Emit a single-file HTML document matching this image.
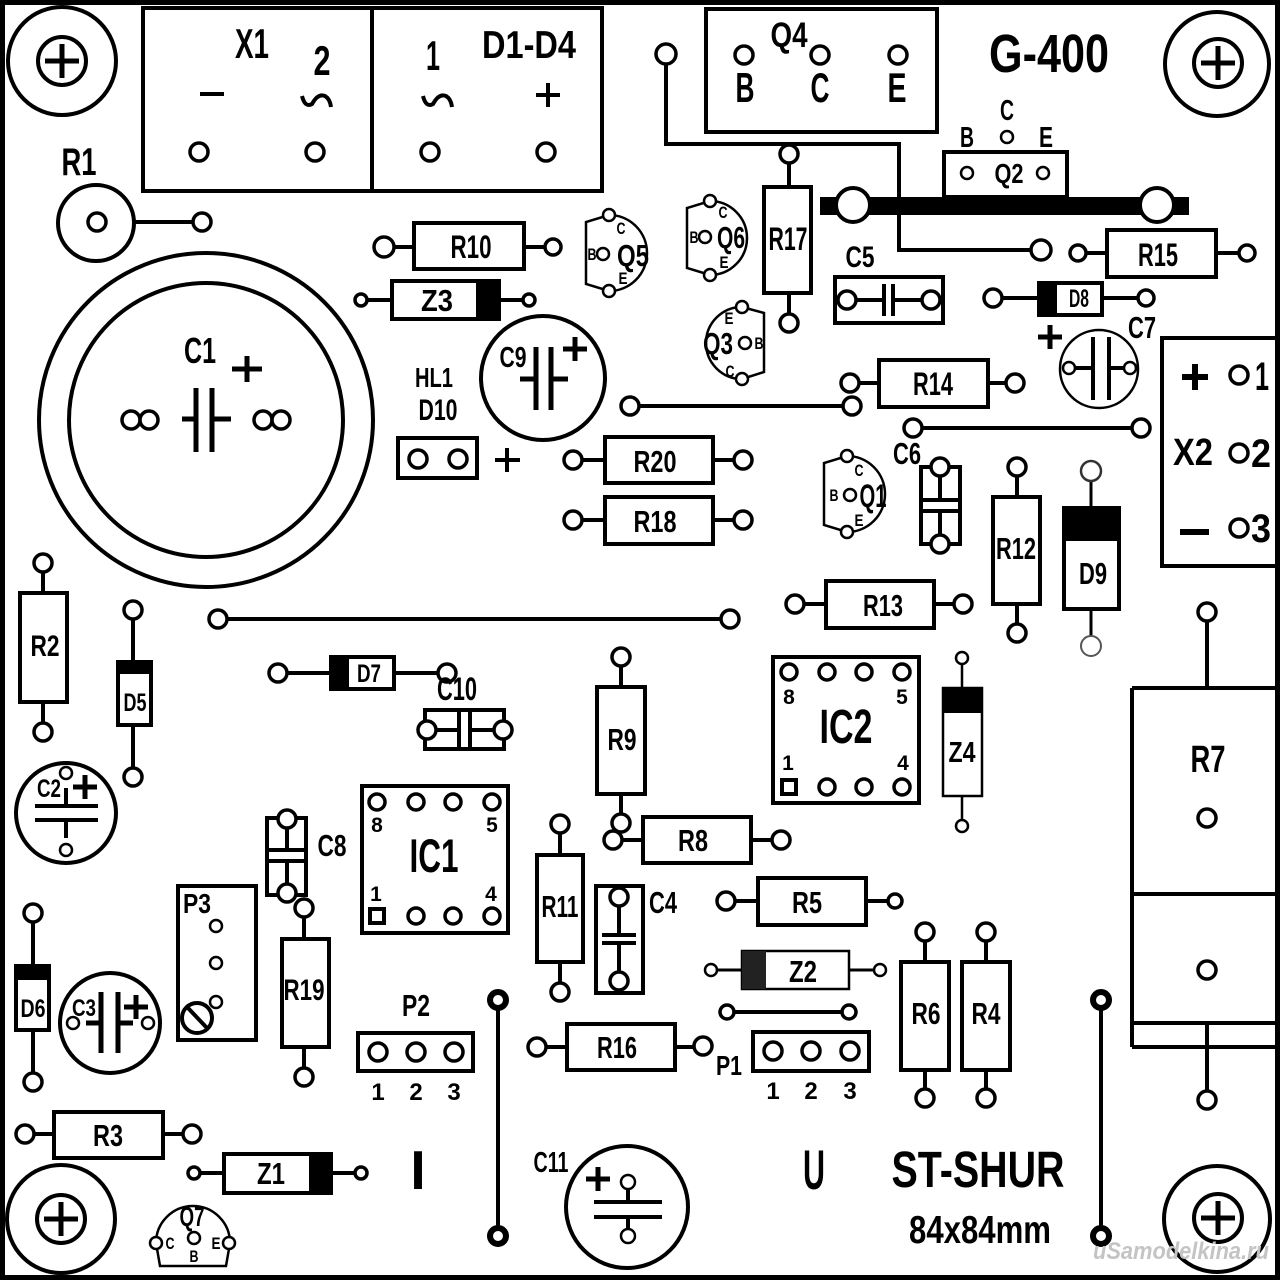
<!DOCTYPE html>
<html><head><meta charset="utf-8"><style>
html,body{margin:0;padding:0;background:#fff}
svg{display:block}
text{font-family:"Liberation Sans",sans-serif;font-weight:bold;text-anchor:middle;fill:#000}
.o{fill:none;stroke:#000;stroke-width:4}
.w{fill:#fff;stroke:#000;stroke-width:4}
.p{fill:#fff;stroke:#000;stroke-width:3.5}
.q{fill:#fff;stroke:#000;stroke-width:2.5}
.l{fill:none;stroke:#000;stroke-width:4}
.bk{fill:#fff;stroke:#000;stroke-width:6}
</style></head><body>
<svg width="1280" height="1280" viewBox="0 0 1280 1280" xmlns="http://www.w3.org/2000/svg">
<rect x="0" y="0" width="1280" height="1280" fill="#fff"/>
<rect x="2.5" y="2.5" width="1275" height="1275" fill="none" stroke="#000" stroke-width="5"/>

<!-- mounting holes -->
<g class="o">
<circle cx="62" cy="61" r="54"/><circle cx="62" cy="61" r="24"/>
<circle cx="1217" cy="64" r="52"/><circle cx="1218" cy="63" r="24"/>
<circle cx="61" cy="1219" r="54"/><circle cx="61" cy="1219" r="24"/>
<circle cx="1217" cy="1219" r="53"/><circle cx="1218" cy="1218" r="24"/>
</g>
<path d="M45,61H79M62,44V78M1201,63H1235M1218,46V80M44,1219H78M61,1202V1236M1201,1218H1235M1218,1201V1235" stroke="#000" stroke-width="5"/>

<!-- X1 / D1-D4 block -->
<rect x="143" y="8" width="459" height="183" class="o"/>
<line x1="372" y1="8" x2="372" y2="191" stroke="#000" stroke-width="4"/>
<circle class="p" cx="199" cy="152" r="9"/><circle class="p" cx="315" cy="152" r="9"/>
<circle class="p" cx="430" cy="152" r="9"/><circle class="p" cx="546" cy="152" r="9"/>
<path d="M200,94H224M536,95H560M548,83V107" stroke="#000" stroke-width="4"/>
<path class="l" d="M302,96Q305,108 312,104Q318,93 325,96Q330,99 331,107"/>
<path class="l" d="M423,96Q426,108 433,104Q439,93 446,96Q451,99 452,107"/>

<!-- R1 -->
<circle class="o" cx="96" cy="223" r="38"/>
<line x1="134" y1="222" x2="193" y2="222" stroke="#000" stroke-width="4"/>
<circle class="p" cx="97" cy="222" r="9"/><circle class="p" cx="202" cy="222" r="9"/>

<!-- C1 -->
<circle class="o" cx="206" cy="420" r="167"/>
<circle class="o" cx="206" cy="420" r="137"/>
<path d="M182,419H196M196,388V452M212,388V452M212,419H231" stroke="#000" stroke-width="5" fill="none"/>
<path d="M232,369H262M247,356V382" stroke="#000" stroke-width="5"/>
<circle class="p" cx="131" cy="420" r="9"/><circle class="p" cx="149" cy="420" r="9"/>
<circle class="p" cx="263" cy="420" r="9"/><circle class="p" cx="281" cy="420" r="9"/>

<!-- R10 -->
<path class="l" d="M384,247H414M524,247H553"/>
<rect class="w" x="414" y="223" width="110" height="46"/>
<circle class="p" cx="384" cy="247" r="10"/><circle class="p" cx="553" cy="247" r="8"/>
<!-- Z3 -->
<path class="l" d="M361,300H392M499,300H529"/>
<rect class="w" x="392" y="281" width="107" height="38"/>
<rect x="476" y="281" width="23" height="38" fill="#000"/>
<circle class="p" cx="361" cy="300" r="6"/><circle class="p" cx="529" cy="300" r="6"/>

<!-- Q5 Q6 Q3 Q1 -->
<path class="q" d="M609,215A38,38 0 1,1 609,291L586,284L586,222Z"/>
<circle class="q" cx="609" cy="215" r="6"/><circle class="q" cx="609" cy="291" r="6"/><circle class="q" cx="603" cy="254" r="6"/>
<path class="q" d="M710,201A37,37 0 1,1 710,275L687,268L687,208Z"/>
<circle class="q" cx="710" cy="201" r="6"/><circle class="q" cx="710" cy="275" r="6"/><circle class="q" cx="705" cy="237" r="6"/>
<path class="q" d="M742,307A36,36 0 1,0 742,379L764,372L764,313Z"/>
<circle class="q" cx="742" cy="307" r="6"/><circle class="q" cx="742" cy="379" r="6"/><circle class="q" cx="745" cy="343" r="6"/>
<path class="q" d="M847,456A38,38 0 1,1 847,532L824,525L824,463Z"/>
<circle class="q" cx="847" cy="456" r="6"/><circle class="q" cx="847" cy="532" r="6"/><circle class="q" cx="850" cy="495" r="6"/>

<!-- Q4 -->
<rect class="o" x="706" y="9" width="231" height="123"/>
<circle class="p" cx="744" cy="55" r="9"/><circle class="p" cx="820" cy="55" r="9"/><circle class="p" cx="898" cy="55" r="9"/>

<!-- trace from Q4 area -->
<path class="l" d="M666,62V144H899V250H1032M789,144V146"/>
<circle class="p" cx="666" cy="54" r="10"/><circle class="p" cx="1041" cy="250" r="10"/>

<!-- Q2 and bar -->
<rect class="w" x="944" y="152" width="123" height="45"/>
<rect x="820" y="197" width="369" height="18" fill="#000"/>
<circle class="w" cx="853" cy="205" r="17"/><circle class="w" cx="1157" cy="205" r="17"/>
<circle class="q" cx="967" cy="173" r="6"/><circle class="q" cx="1043" cy="173" r="6"/><circle class="q" cx="1007" cy="137" r="6"/>

<!-- R17 -->
<path class="l" d="M789,154V187M789,293V323"/>
<rect class="w" x="764" y="187" width="47" height="106"/>
<circle class="p" cx="789" cy="154" r="9"/><circle class="p" cx="789" cy="323" r="9"/>

<!-- C5 -->
<rect class="w" x="835" y="277" width="108" height="46"/>
<path class="l" d="M847,300H884M893,300H931M884,284V316M893,284V316"/>
<circle class="p" cx="847" cy="300" r="9"/><circle class="p" cx="931" cy="300" r="9"/>

<!-- R15 -->
<path class="l" d="M1078,253H1107M1216,253H1247"/>
<rect class="w" x="1107" y="230" width="109" height="47"/>
<circle class="p" cx="1078" cy="253" r="8"/><circle class="p" cx="1247" cy="253" r="8"/>
<!-- D8 -->
<path class="l" d="M993,298H1039M1102,298H1146"/>
<rect class="w" x="1039" y="283" width="63" height="32"/>
<rect x="1039" y="283" width="18" height="32" fill="#000"/>
<circle class="p" cx="993" cy="298" r="9"/><circle class="p" cx="1146" cy="298" r="8"/>
<!-- C7 -->
<circle class="q" cx="1099" cy="369" r="39"/>
<path class="l" d="M1069,368H1093M1109,368H1130M1093,337V400M1109,337V400"/>
<circle class="q" cx="1069" cy="368" r="6"/><circle class="q" cx="1130" cy="368" r="6"/>
<path d="M1038,337H1062M1050,325V349" stroke="#000" stroke-width="5"/>
<!-- R14 -->
<path class="l" d="M850,383H879M988,383H1015"/>
<rect class="w" x="879" y="360" width="109" height="47"/>
<circle class="p" cx="850" cy="383" r="9"/><circle class="p" cx="1015" cy="383" r="9"/>

<!-- traces -->
<line x1="630" y1="406" x2="852" y2="406" stroke="#000" stroke-width="4"/>
<circle class="p" cx="630" cy="406" r="9"/><circle class="p" cx="852" cy="406" r="9"/>
<line x1="913" y1="428" x2="1141" y2="428" stroke="#000" stroke-width="4"/>
<circle class="p" cx="913" cy="428" r="9"/><circle class="p" cx="1141" cy="428" r="9"/>
<line x1="218" y1="619" x2="730" y2="619" stroke="#000" stroke-width="4"/>
<circle class="p" cx="218" cy="619" r="9"/><circle class="p" cx="730" cy="619" r="9"/>

<!-- X2 -->
<path class="o" d="M1282,338H1162V566H1282"/>
<circle class="p" cx="1239" cy="375" r="9"/><circle class="p" cx="1239" cy="453" r="9"/><circle class="p" cx="1239" cy="528" r="9"/>
<path d="M1182,377H1208M1195,364V390M1180,532H1209" stroke="#000" stroke-width="6"/>

<!-- C9 -->
<circle class="o" cx="543" cy="378" r="62"/>
<path d="M520,379H536M536,347V410M551,347V410M551,379H568" stroke="#000" stroke-width="5" fill="none"/>
<path d="M563,349H587M575,337V361" stroke="#000" stroke-width="5"/>
<!-- HL1 -->
<rect class="o" x="398" y="438" width="79" height="40"/>
<circle class="p" cx="418" cy="459" r="9"/><circle class="p" cx="458" cy="459" r="9"/>
<path d="M495,460H520M507,448V472" stroke="#000" stroke-width="4"/>

<!-- R20 R18 -->
<path class="l" d="M573,460H605M713,460H743M573,520H605M713,520H743"/>
<rect class="w" x="605" y="437" width="108" height="46"/>
<rect class="w" x="605" y="497" width="108" height="47"/>
<circle class="p" cx="573" cy="460" r="9"/><circle class="p" cx="743" cy="460" r="9"/>
<circle class="p" cx="573" cy="520" r="9"/><circle class="p" cx="743" cy="520" r="9"/>

<!-- C6 -->
<rect class="w" x="921" y="467" width="39" height="77"/>
<path class="l" d="M940,476V500M921,500H960M921,511H960M940,511V535"/>
<circle class="p" cx="940" cy="467" r="9"/><circle class="p" cx="940" cy="544" r="9"/>
<!-- R12 -->
<path class="l" d="M1017,467V497M1017,604V633"/>
<rect class="w" x="993" y="497" width="47" height="107"/>
<circle class="p" cx="1017" cy="467" r="9"/><circle class="p" cx="1017" cy="633" r="9"/>
<!-- D9 -->
<path d="M1091,471V508M1091,609V646" stroke="#000" stroke-width="3"/>
<rect class="w" x="1064" y="508" width="55" height="101"/>
<rect x="1064" y="508" width="55" height="33" fill="#000"/>
<circle cx="1091" cy="471" r="10" fill="#fff" stroke="#333" stroke-width="2.5"/>
<circle cx="1091" cy="646" r="10" fill="#fff" stroke="#555" stroke-width="2"/>
<!-- R13 -->
<path class="l" d="M795,604H826M934,604H963"/>
<rect class="w" x="826" y="581" width="108" height="47"/>
<circle class="p" cx="795" cy="604" r="9"/><circle class="p" cx="963" cy="604" r="9"/>

<!-- IC2 -->
<rect class="o" x="773" y="657" width="146" height="146"/>
<circle class="p" cx="789" cy="672" r="8"/><circle class="p" cx="827" cy="672" r="8"/><circle class="p" cx="864" cy="672" r="8"/><circle class="p" cx="902" cy="672" r="8"/>
<rect class="w" x="782" y="780" width="14" height="14"/><circle class="p" cx="827" cy="787" r="8"/><circle class="p" cx="864" cy="787" r="8"/><circle class="p" cx="902" cy="787" r="8"/>
<!-- Z4 -->
<path d="M962,658V688M962,796V826" stroke="#000" stroke-width="2.5"/>
<rect class="q" x="943" y="688" width="39" height="108"/>
<rect x="943" y="688" width="39" height="25" fill="#000"/>
<circle class="q" cx="962" cy="658" r="6"/><circle class="q" cx="962" cy="826" r="6"/>

<!-- R7 -->
<path class="l" d="M1207,621V688M1132,688H1278M1132,688V1047M1132,894H1278M1132,1023H1278M1132,1047H1278M1207,1023V1091"/>
<circle class="p" cx="1207" cy="612" r="9"/><circle class="p" cx="1207" cy="818" r="9"/><circle class="p" cx="1207" cy="970" r="9"/><circle class="p" cx="1207" cy="1100" r="9"/>

<!-- vertical traces -->
<line x1="498" y1="1000" x2="498" y2="1236" stroke="#000" stroke-width="4"/>
<circle class="bk" cx="498" cy="1000" r="8"/><circle class="bk" cx="498" cy="1236" r="8"/>
<line x1="1101" y1="1000" x2="1101" y2="1236" stroke="#000" stroke-width="4"/>
<circle class="bk" cx="1101" cy="1000" r="8"/><circle class="bk" cx="1101" cy="1236" r="8"/>

<!-- R2 -->
<path class="l" d="M43,563V593M43,702V732"/>
<rect class="w" x="20" y="593" width="47" height="109"/>
<circle class="p" cx="43" cy="563" r="9"/><circle class="p" cx="43" cy="732" r="9"/>
<!-- D5 -->
<path class="l" d="M133,610V662M133,725V777"/>
<rect class="w" x="118" y="662" width="33" height="63"/>
<rect x="118" y="662" width="33" height="12" fill="#000"/>
<circle class="p" cx="133" cy="610" r="9"/><circle class="p" cx="133" cy="777" r="9"/>
<!-- D7 -->
<path class="l" d="M278,673H331M394,673H447"/>
<rect class="w" x="331" y="657" width="63" height="32"/>
<rect x="331" y="657" width="18" height="32" fill="#000"/>
<circle class="p" cx="278" cy="673" r="9"/><circle class="p" cx="447" cy="673" r="9"/>
<!-- C10 -->
<rect class="w" x="425" y="710" width="79" height="39"/>
<path class="l" d="M427,730H459M470,730H503M459,710V749M470,710V749"/>
<circle class="p" cx="427" cy="730" r="9"/><circle class="p" cx="503" cy="730" r="9"/>

<!-- C2 -->
<circle class="o" cx="66" cy="813" r="50"/>
<path class="l" d="M35,806H98M35,820H98M66,788V806M66,820V838"/>
<circle class="q" cx="66" cy="773" r="6"/><circle class="q" cx="66" cy="850" r="6"/>
<path d="M73,787H97M85,775V799" stroke="#000" stroke-width="5"/>

<!-- IC1 -->
<rect class="o" x="362" y="786" width="146" height="147"/>
<circle class="p" cx="377" cy="802" r="8"/><circle class="p" cx="416" cy="802" r="8"/><circle class="p" cx="453" cy="802" r="8"/><circle class="p" cx="492" cy="802" r="8"/>
<rect class="w" x="370" y="909" width="14" height="14"/><circle class="p" cx="416" cy="916" r="8"/><circle class="p" cx="453" cy="916" r="8"/><circle class="p" cx="492" cy="916" r="8"/>

<!-- C8 -->
<rect class="w" x="267" y="818" width="39" height="77"/>
<path class="l" d="M287,826V850M267,850H306M267,861H306M287,861V886"/>
<circle class="p" cx="287" cy="819" r="9"/><circle class="p" cx="287" cy="893" r="9"/>

<!-- R9 -->
<path class="l" d="M621,657V687M621,794V823"/>
<rect class="w" x="597" y="687" width="48" height="107"/>
<circle class="p" cx="621" cy="657" r="9"/><circle class="p" cx="621" cy="823" r="9"/>
<!-- R8 -->
<path class="l" d="M613,840H643M751,840H781"/>
<rect class="w" x="643" y="817" width="108" height="46"/>
<circle class="p" cx="613" cy="840" r="9"/><circle class="p" cx="781" cy="840" r="9"/>
<!-- R11 -->
<path class="l" d="M560,824V855M560,962V992"/>
<rect class="w" x="537" y="855" width="46" height="107"/>
<circle class="p" cx="560" cy="824" r="9"/><circle class="p" cx="560" cy="992" r="9"/>
<!-- C4 -->
<rect class="w" x="596" y="886" width="47" height="107"/>
<path class="l" d="M619,906V935M602,935H636M602,943H636M619,943V972"/>
<circle class="p" cx="619" cy="897" r="9"/><circle class="p" cx="619" cy="981" r="9"/>
<!-- R5 -->
<path class="l" d="M726,901H758M866,901H895"/>
<rect class="w" x="758" y="878" width="108" height="47"/>
<circle class="p" cx="726" cy="901" r="9"/><circle class="p" cx="895" cy="901" r="7"/>
<!-- Z2 -->
<path class="l" d="M711,970H742M849,970H880" style="stroke-width:3"/>
<rect class="q" x="742" y="951" width="107" height="38"/>
<rect x="742" y="951" width="24" height="38" fill="#222"/>
<circle class="q" cx="711" cy="970" r="6"/><circle class="q" cx="880" cy="970" r="6"/>
<!-- trace -->
<line x1="727" y1="1012" x2="849" y2="1012" stroke="#000" stroke-width="4"/>
<circle class="p" cx="727" cy="1012" r="7"/><circle class="p" cx="849" cy="1012" r="7"/>
<!-- R16 -->
<path class="l" d="M537,1047H567M675,1047H703"/>
<rect class="w" x="567" y="1024" width="108" height="46"/>
<circle class="p" cx="537" cy="1047" r="9"/><circle class="p" cx="703" cy="1046" r="9"/>
<!-- P1 -->
<rect class="o" x="753" y="1032" width="116" height="39"/>
<circle class="p" cx="773" cy="1051" r="9"/><circle class="p" cx="811" cy="1051" r="9"/><circle class="p" cx="850" cy="1051" r="9"/>
<!-- R6 R4 -->
<path class="l" d="M925,932V962M925,1070V1098M986,932V962M986,1070V1098"/>
<rect class="w" x="901" y="962" width="48" height="108"/>
<rect class="w" x="962" y="962" width="48" height="108"/>
<circle class="p" cx="925" cy="932" r="9"/><circle class="p" cx="925" cy="1098" r="9"/>
<circle class="p" cx="986" cy="932" r="9"/><circle class="p" cx="986" cy="1098" r="9"/>

<!-- P3 -->
<rect class="o" x="178" y="886" width="78" height="154"/>
<circle class="q" cx="216" cy="926" r="6"/><circle class="q" cx="216" cy="963" r="6"/><circle class="q" cx="216" cy="1002" r="6"/>
<circle class="w" cx="197" cy="1018" r="15"/>
<line x1="188" y1="1008" x2="207" y2="1028" stroke="#000" stroke-width="4"/>
<!-- R19 -->
<path class="l" d="M304,908V939M304,1047V1077"/>
<rect class="w" x="282" y="939" width="47" height="108"/>
<circle class="p" cx="304" cy="908" r="9"/><circle class="p" cx="304" cy="1077" r="9"/>
<!-- P2 -->
<rect class="o" x="358" y="1033" width="115" height="38"/>
<circle class="p" cx="378" cy="1052" r="9"/><circle class="p" cx="416" cy="1052" r="9"/><circle class="p" cx="454" cy="1052" r="9"/>

<!-- D6 -->
<path class="l" d="M33,913V966M33,1030V1082"/>
<rect class="w" x="16" y="966" width="33" height="64"/>
<rect x="16" y="966" width="33" height="14" fill="#000"/>
<circle class="p" cx="33" cy="913" r="9"/><circle class="p" cx="33" cy="1082" r="9"/>
<!-- C3 -->
<circle class="o" cx="110" cy="1023" r="50"/>
<path d="M101,992V1053M118,992V1053M86,1023H101M118,1023H133" stroke="#000" stroke-width="5" fill="none"/>
<circle class="q" cx="73" cy="1023" r="6"/><circle class="q" cx="148" cy="1023" r="6"/>
<path d="M124,1007H148M136,995V1019" stroke="#000" stroke-width="5"/>
<!-- R3 -->
<path class="l" d="M25,1134H54M163,1134H192"/>
<rect class="w" x="54" y="1112" width="109" height="46"/>
<circle class="p" cx="25" cy="1134" r="9"/><circle class="p" cx="192" cy="1134" r="9"/>
<!-- Z1 -->
<path class="l" d="M194,1173H224M331,1173H361"/>
<rect class="w" x="224" y="1154" width="107" height="39"/>
<rect x="309" y="1154" width="22" height="39" fill="#000"/>
<circle class="p" cx="194" cy="1173" r="6"/><circle class="p" cx="361" cy="1173" r="6"/>
<!-- Q7 -->
<path class="q" d="M156,1243A37,37 0 0,1 230,1243L226,1266L160,1266Z"/>
<circle class="q" cx="156" cy="1243" r="6"/><circle class="q" cx="194" cy="1238" r="6"/><circle class="q" cx="229" cy="1243" r="6"/>
<!-- C11 -->
<circle class="o" cx="627" cy="1207" r="61"/>
<path class="l" d="M594,1202H662M594,1217H662M628,1189V1202M628,1217V1229"/>
<circle class="q" cx="628" cy="1182" r="7"/><circle class="q" cx="628" cy="1236" r="7"/>
<path d="M586,1179H610M598,1167V1191" stroke="#000" stroke-width="5"/>

<!-- ============ TEXT ============ -->
<text x="252" y="58" font-size="42" textLength="34" lengthAdjust="spacingAndGlyphs">X1</text>
<text x="322" y="75" font-size="42" textLength="17" lengthAdjust="spacingAndGlyphs">2</text>
<text x="433" y="70" font-size="42" textLength="14" lengthAdjust="spacingAndGlyphs">1</text>
<text x="529" y="58" font-size="39" textLength="94" lengthAdjust="spacingAndGlyphs">D1-D4</text>
<text x="79" y="175" font-size="39" textLength="35" lengthAdjust="spacingAndGlyphs">R1</text>
<text x="200" y="363" font-size="36" textLength="32" lengthAdjust="spacingAndGlyphs">C1</text>
<text x="471" y="258" font-size="32" textLength="41" lengthAdjust="spacingAndGlyphs">R10</text>
<text x="437" y="311" font-size="31" textLength="32" lengthAdjust="spacingAndGlyphs">Z3</text>

<text x="633" y="266" font-size="31" textLength="32" lengthAdjust="spacingAndGlyphs">Q5</text>
<text x="592" y="260" font-size="17" textLength="9" lengthAdjust="spacingAndGlyphs">B</text>
<text x="621" y="234" font-size="17" textLength="9" lengthAdjust="spacingAndGlyphs">C</text>
<text x="623" y="284" font-size="17" textLength="9" lengthAdjust="spacingAndGlyphs">E</text>
<text x="731" y="248" font-size="31" textLength="28" lengthAdjust="spacingAndGlyphs">Q6</text>
<text x="694" y="243" font-size="17" textLength="9" lengthAdjust="spacingAndGlyphs">B</text>
<text x="723" y="218" font-size="17" textLength="9" lengthAdjust="spacingAndGlyphs">C</text>
<text x="724" y="268" font-size="17" textLength="9" lengthAdjust="spacingAndGlyphs">E</text>
<text x="718" y="354" font-size="31" textLength="30" lengthAdjust="spacingAndGlyphs">Q3</text>
<text x="759" y="349" font-size="17" textLength="9" lengthAdjust="spacingAndGlyphs">B</text>
<text x="729" y="324" font-size="17" textLength="9" lengthAdjust="spacingAndGlyphs">E</text>
<text x="730" y="377" font-size="17" textLength="9" lengthAdjust="spacingAndGlyphs">C</text>
<text x="873" y="507" font-size="32" textLength="27" lengthAdjust="spacingAndGlyphs">Q1</text>
<text x="834" y="501" font-size="17" textLength="9" lengthAdjust="spacingAndGlyphs">B</text>
<text x="859" y="476" font-size="17" textLength="9" lengthAdjust="spacingAndGlyphs">C</text>
<text x="859" y="526" font-size="17" textLength="9" lengthAdjust="spacingAndGlyphs">E</text>

<text x="789" y="47" font-size="35" textLength="37" lengthAdjust="spacingAndGlyphs">Q4</text>
<text x="745" y="102" font-size="42" textLength="19" lengthAdjust="spacingAndGlyphs">B</text>
<text x="820" y="102" font-size="42" textLength="19" lengthAdjust="spacingAndGlyphs">C</text>
<text x="897" y="102" font-size="42" textLength="19" lengthAdjust="spacingAndGlyphs">E</text>
<text x="1049" y="72" font-size="54" textLength="120" lengthAdjust="spacingAndGlyphs">G-400</text>
<text x="967" y="147" font-size="29" textLength="14" lengthAdjust="spacingAndGlyphs">B</text>
<text x="1007" y="120" font-size="29" textLength="14" lengthAdjust="spacingAndGlyphs">C</text>
<text x="1046" y="147" font-size="29" textLength="14" lengthAdjust="spacingAndGlyphs">E</text>
<text x="1009" y="183" font-size="28" textLength="29" lengthAdjust="spacingAndGlyphs">Q2</text>
<text x="788" y="250" font-size="32" textLength="39" lengthAdjust="spacingAndGlyphs">R17</text>
<text x="860" y="267" font-size="30" textLength="29" lengthAdjust="spacingAndGlyphs">C5</text>
<text x="1158" y="266" font-size="32" textLength="40" lengthAdjust="spacingAndGlyphs">R15</text>
<text x="1079" y="307" font-size="25" textLength="20" lengthAdjust="spacingAndGlyphs">D8</text>
<text x="1142" y="338" font-size="31" textLength="28" lengthAdjust="spacingAndGlyphs">C7</text>
<text x="933" y="395" font-size="32" textLength="40" lengthAdjust="spacingAndGlyphs">R14</text>
<text x="1262" y="390" font-size="40" textLength="14" lengthAdjust="spacingAndGlyphs">1</text>
<text x="1193" y="465" font-size="38" textLength="40" lengthAdjust="spacingAndGlyphs">X2</text>
<text x="1261" y="467" font-size="40" textLength="20" lengthAdjust="spacingAndGlyphs">2</text>
<text x="1261" y="542" font-size="40" textLength="20" lengthAdjust="spacingAndGlyphs">3</text>

<text x="513" y="367" font-size="29" textLength="27" lengthAdjust="spacingAndGlyphs">C9</text>
<text x="434" y="387" font-size="28" textLength="38" lengthAdjust="spacingAndGlyphs">HL1</text>
<text x="438" y="420" font-size="30" textLength="39" lengthAdjust="spacingAndGlyphs">D10</text>
<text x="655" y="472" font-size="31" textLength="43" lengthAdjust="spacingAndGlyphs">R20</text>
<text x="655" y="532" font-size="31" textLength="43" lengthAdjust="spacingAndGlyphs">R18</text>
<text x="907" y="464" font-size="31" textLength="28" lengthAdjust="spacingAndGlyphs">C6</text>
<text x="1016" y="559" font-size="31" textLength="40" lengthAdjust="spacingAndGlyphs">R12</text>
<text x="1093" y="584" font-size="31" textLength="28" lengthAdjust="spacingAndGlyphs">D9</text>
<text x="883" y="616" font-size="31" textLength="40" lengthAdjust="spacingAndGlyphs">R13</text>
<text x="846" y="743" font-size="48" textLength="53" lengthAdjust="spacingAndGlyphs">IC2</text>
<text x="789" y="704" font-size="21">8</text>
<text x="902" y="704" font-size="21">5</text>
<text x="788" y="770" font-size="21">1</text>
<text x="903" y="770" font-size="21">4</text>
<text x="962" y="762" font-size="29" textLength="27" lengthAdjust="spacingAndGlyphs">Z4</text>
<text x="1208" y="772" font-size="38" textLength="35" lengthAdjust="spacingAndGlyphs">R7</text>

<text x="45" y="656" font-size="30" textLength="29" lengthAdjust="spacingAndGlyphs">R2</text>
<text x="135" y="711" font-size="25" textLength="23" lengthAdjust="spacingAndGlyphs">D5</text>
<text x="369" y="682" font-size="25" textLength="24" lengthAdjust="spacingAndGlyphs">D7</text>
<text x="457" y="700" font-size="32" textLength="40" lengthAdjust="spacingAndGlyphs">C10</text>
<text x="49" y="797" font-size="25" textLength="24" lengthAdjust="spacingAndGlyphs">C2</text>
<text x="434" y="872" font-size="47" textLength="49" lengthAdjust="spacingAndGlyphs">IC1</text>
<text x="377" y="832" font-size="21">8</text>
<text x="492" y="832" font-size="21">5</text>
<text x="376" y="901" font-size="21">1</text>
<text x="491" y="901" font-size="21">4</text>
<text x="332" y="856" font-size="31" textLength="29" lengthAdjust="spacingAndGlyphs">C8</text>
<text x="622" y="750" font-size="31" textLength="29" lengthAdjust="spacingAndGlyphs">R9</text>
<text x="693" y="851" font-size="31" textLength="30" lengthAdjust="spacingAndGlyphs">R8</text>
<text x="560" y="917" font-size="31" textLength="37" lengthAdjust="spacingAndGlyphs">R11</text>
<text x="663" y="913" font-size="31" textLength="28" lengthAdjust="spacingAndGlyphs">C4</text>
<text x="807" y="913" font-size="31" textLength="30" lengthAdjust="spacingAndGlyphs">R5</text>
<text x="803" y="982" font-size="31" textLength="28" lengthAdjust="spacingAndGlyphs">Z2</text>
<text x="926" y="1024" font-size="31" textLength="29" lengthAdjust="spacingAndGlyphs">R6</text>
<text x="986" y="1024" font-size="31" textLength="29" lengthAdjust="spacingAndGlyphs">R4</text>
<text x="617" y="1058" font-size="31" textLength="40" lengthAdjust="spacingAndGlyphs">R16</text>
<text x="729" y="1075" font-size="28" textLength="26" lengthAdjust="spacingAndGlyphs">P1</text>
<text x="773" y="1099" font-size="24">1</text>
<text x="811" y="1099" font-size="24">2</text>
<text x="850" y="1099" font-size="24">3</text>
<text x="416" y="1016" font-size="31" textLength="28" lengthAdjust="spacingAndGlyphs">P2</text>
<text x="378" y="1100" font-size="24">1</text>
<text x="416" y="1100" font-size="24">2</text>
<text x="454" y="1100" font-size="24">3</text>
<text x="197" y="913" font-size="28" textLength="28" lengthAdjust="spacingAndGlyphs">P3</text>
<text x="304" y="1000" font-size="30" textLength="41" lengthAdjust="spacingAndGlyphs">R19</text>
<text x="33" y="1017" font-size="25" textLength="25" lengthAdjust="spacingAndGlyphs">D6</text>
<text x="84" y="1016" font-size="24" textLength="24" lengthAdjust="spacingAndGlyphs">C3</text>
<text x="108" y="1146" font-size="31" textLength="30" lengthAdjust="spacingAndGlyphs">R3</text>
<text x="271" y="1184" font-size="31" textLength="28" lengthAdjust="spacingAndGlyphs">Z1</text>
<text x="192" y="1226" font-size="28" textLength="25" lengthAdjust="spacingAndGlyphs">Q7</text>
<text x="170" y="1249" font-size="17" textLength="9" lengthAdjust="spacingAndGlyphs">C</text>
<text x="194" y="1262" font-size="17" textLength="9" lengthAdjust="spacingAndGlyphs">B</text>
<text x="216" y="1249" font-size="17" textLength="9" lengthAdjust="spacingAndGlyphs">E</text>
<text x="551" y="1172" font-size="29" textLength="35" lengthAdjust="spacingAndGlyphs">C11</text>
<text x="418" y="1189" font-size="55">I</text>
<text x="814" y="1189" font-size="56" textLength="22" lengthAdjust="spacingAndGlyphs">U</text>
<text x="978" y="1187" font-size="51" textLength="173" lengthAdjust="spacingAndGlyphs">ST-SHUR</text>
<text x="980" y="1243" font-size="39" textLength="142" lengthAdjust="spacingAndGlyphs">84x84mm</text>
<text x="1181" y="1259" font-size="24" font-style="italic" textLength="176" lengthAdjust="spacingAndGlyphs" style="fill:#c4c4c4">uSamodelkina.ru</text>
</svg>
</body></html>
